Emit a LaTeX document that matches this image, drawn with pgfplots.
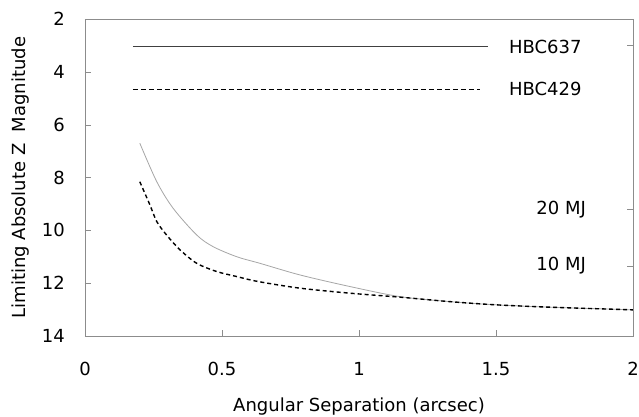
\documentclass[border=0pt]{standalone}
\usepackage{fontspec}
\setmainfont{DejaVu Sans}
\usepackage{pgfplots}
\pgfplotsset{compat=1.18}
\begin{document}
\fontsize{18}{21}\selectfont
\begin{tikzpicture}
\begin{axis}[
  scale only axis, width=548pt, height=317pt,
  xmin=0, xmax=2, ymin=2, ymax=14, y dir=reverse,
  xtick={0,0.5,1,1.5,2}, ytick={2,4,6,8,10,12,14},
  xticklabels={0,0.5,1,1.5,2},
  xtick pos=bottom, ytick pos=left,
  tick align=inside, major tick length=6pt,
  axis line style={gray!90}, tick style={gray!90},
  /pgf/number format/assume math mode=true,
  every tick label/.append style={font=\fontsize{18}{21}\selectfont},
  xticklabel style={yshift=-20pt},
  yticklabel style={xshift=-14pt},
  xlabel={Angular Separation (arcsec)},
  ylabel={Limiting Absolute Z\ \ Magnitude},
  every axis x label/.style={at={(axis description cs:0.5,-0.2397)}, anchor=base},
  every axis y label/.style={at={(axis description cs:-0.1168,0.5)}, rotate=90, anchor=center},
  clip=false,
]
\addplot[black!75, line width=0.7pt] coordinates {(0.175,3.05) (1.47,3.05)};
\addplot[black, line width=0.8pt, dash pattern=on 5pt off 3pt] coordinates {(0.175,4.65) (1.44,4.65)};
\addplot[gray!70, line width=0.8pt, smooth] coordinates {
(0.2,6.70) (0.262,8.16) (0.322,9.17) (0.408,10.18) (0.468,10.62) (0.554,11.0) (0.639,11.25)
(0.785,11.69) (0.968,12.13) (1.15,12.51) (1.333,12.70) (1.5,12.82) (1.7,12.91) (2.0,13.01)};
\addplot[black, line width=1.4pt, dash pattern=on 4pt off 3pt, smooth] coordinates {
(0.2,8.16) (0.237,9.04) (0.262,9.67) (0.298,10.18) (0.347,10.74) (0.408,11.25) (0.481,11.56)
(0.554,11.75) (0.633,11.94) (0.785,12.19) (0.968,12.38) (1.15,12.53) (1.333,12.70) (1.5,12.82) (1.7,12.91) (2.0,13.01)};
\node[anchor=center] at (axis cs:1.68,3.05) {HBC637};
\node[anchor=center] at (axis cs:1.68,4.65) {HBC429};
\node[anchor=center] at (axis cs:1.738,9.2) {20 MJ};
\node[anchor=center] at (axis cs:1.738,11.35) {10 MJ};
\end{axis}
\begin{axis}[
  scale only axis, width=548pt, height=317pt,
  xmin=0, xmax=2, ymin=2, ymax=14, y dir=reverse,
  axis y line*=right, hide x axis,
  axis line style={gray!90}, tick style={gray!90},
  tick align=inside, major tick length=6pt,
  ytick={3.0,9.2,11.35}, yticklabels={},
]
\end{axis}
\pgfresetboundingbox
\path[use as bounding box] (-85pt,-81pt) rectangle (554pt,336pt);
\end{tikzpicture}
\end{document}
